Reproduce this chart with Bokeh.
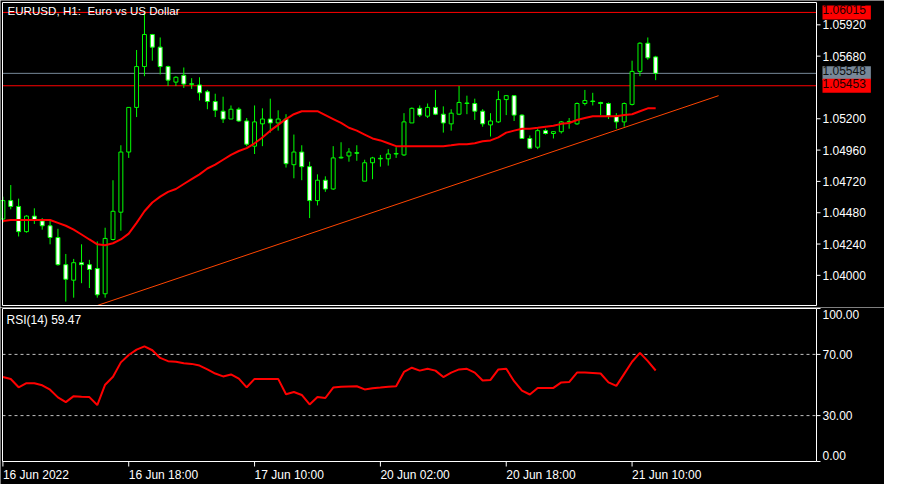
import pandas as pd
from bokeh.plotting import figure
from bokeh.layouts import column
from bokeh.models import Range1d, Label, ColumnDataSource, BoxAnnotation
from bokeh.core.properties import value
from bokeh.embed import file_html
from bokeh.resources import INLINE

# ---------------- data (EURUSD H1) ----------------
open_ = [1.04432, 1.04573, 1.04528, 1.04335, 1.04454, 1.04417, 1.04380, 1.04290, 1.04082, 1.03963,
         1.04097, 1.04082, 1.04052, 1.03859, 1.04275, 1.04484, 1.04945, 1.05287, 1.05600, 1.05846,
         1.05749, 1.05600, 1.05481, 1.05533, 1.05468, 1.05459, 1.05407, 1.05332, 1.05258, 1.05198,
         1.05273, 1.05183, 1.04990, 1.05161, 1.05198, 1.05168, 1.05198, 1.04848, 1.04945, 1.04833,
         1.04573, 1.04729, 1.04662, 1.04900, 1.04915, 1.04940, 1.04722, 1.04863, 1.04893, 1.04893,
         1.04930, 1.04923, 1.05168, 1.05280, 1.05220, 1.05287, 1.05235, 1.05161, 1.05235, 1.05317,
         1.05317, 1.05258, 1.05153, 1.05176, 1.05347, 1.05377, 1.05228, 1.05049, 1.04982, 1.05109,
         1.05087, 1.05101, 1.05176, 1.05161, 1.05317, 1.05336, 1.05325, 1.05317, 1.05220, 1.05176,
         1.05310, 1.05563, 1.05779, 1.05674]
high = [1.04603, 1.04692, 1.04588, 1.04461, 1.04514, 1.04439, 1.04424, 1.04357, 1.04164, 1.04126,
        1.04238, 1.04119, 1.04260, 1.04365, 1.04729, 1.04997, 1.05287, 1.05727, 1.06015, 1.05850,
        1.05823, 1.05607, 1.05526, 1.05593, 1.05511, 1.05518, 1.05421, 1.05392, 1.05369, 1.05302,
        1.05287, 1.05206, 1.05302, 1.05280, 1.05354, 1.05265, 1.05235, 1.05079, 1.04997, 1.04871,
        1.04774, 1.04759, 1.04990, 1.05020, 1.04975, 1.04997, 1.04886, 1.04908, 1.04923, 1.04967,
        1.04982, 1.05243, 1.05287, 1.05302, 1.05317, 1.05421, 1.05295, 1.05273, 1.05451, 1.05377,
        1.05354, 1.05273, 1.05243, 1.05414, 1.05380, 1.05380, 1.05235, 1.05072, 1.05124, 1.05124,
        1.05101, 1.05183, 1.05206, 1.05325, 1.05421, 1.05399, 1.05330, 1.05325, 1.05243, 1.05325,
        1.05645, 1.05786, 1.05823, 1.05682]
low = [1.04402, 1.04506, 1.04298, 1.04327, 1.04394, 1.04350, 1.04238, 1.04074, 1.03799, 1.03829,
       1.03940, 1.03903, 1.03829, 1.03829, 1.04268, 1.04342, 1.04900, 1.05213, 1.05526, 1.05645,
       1.05540, 1.05451, 1.05451, 1.05436, 1.05429, 1.05340, 1.05273, 1.05213, 1.05168, 1.05198,
       1.05176, 1.04990, 1.04930, 1.04990, 1.05094, 1.05109, 1.04826, 1.04744, 1.04729, 1.04439,
       1.04536, 1.04640, 1.04655, 1.04895, 1.04871, 1.04878, 1.04722, 1.04737, 1.04833, 1.04841,
       1.04900, 1.04915, 1.05168, 1.05213, 1.05206, 1.05228, 1.05094, 1.05109, 1.05228, 1.05235,
       1.05191, 1.05139, 1.05064, 1.05168, 1.05228, 1.05183, 1.05049, 1.04975, 1.04967, 1.05079,
       1.05049, 1.05087, 1.05124, 1.05153, 1.05302, 1.05302, 1.05228, 1.05198, 1.05124, 1.05139,
       1.05302, 1.05526, 1.05652, 1.05496]
close = [1.04573, 1.04528, 1.04335, 1.04454, 1.04424, 1.04380, 1.04290, 1.04082, 1.03970, 1.04097,
         1.04082, 1.04045, 1.03851, 1.04283, 1.04491, 1.04945, 1.05287, 1.05600, 1.05846, 1.05749,
         1.05600, 1.05496, 1.05518, 1.05466, 1.05464, 1.05399, 1.05332, 1.05265, 1.05198, 1.05273,
         1.05183, 1.05005, 1.05176, 1.05198, 1.05168, 1.05198, 1.04856, 1.04945, 1.04833, 1.04573,
         1.04729, 1.04662, 1.04900, 1.04905, 1.04945, 1.04936, 1.04863, 1.04900, 1.04897, 1.04930,
         1.04934, 1.05176, 1.05280, 1.05228, 1.05287, 1.05235, 1.05168, 1.05243, 1.05325, 1.05321,
         1.05258, 1.05161, 1.05183, 1.05347, 1.05377, 1.05228, 1.05049, 1.04975, 1.05109, 1.05087,
         1.05101, 1.05176, 1.05180, 1.05317, 1.05340, 1.05332, 1.05317, 1.05220, 1.05176, 1.05317,
         1.05563, 1.05779, 1.05667, 1.05548]
ma = [1.04417, 1.04424, 1.04424, 1.04424, 1.04424, 1.04424, 1.04424, 1.04402, 1.04380, 1.04350,
      1.04313, 1.04275, 1.04238, 1.04231, 1.04246, 1.04275, 1.04320, 1.04402, 1.04491, 1.04558,
      1.04603, 1.04640, 1.04662, 1.04700, 1.04737, 1.04774, 1.04819, 1.04848, 1.04886, 1.04923,
      1.04953, 1.04975, 1.05012, 1.05057, 1.05109, 1.05153, 1.05198, 1.05235, 1.05258, 1.05258,
      1.05258, 1.05228, 1.05198, 1.05168, 1.05131, 1.05109, 1.05079, 1.05049, 1.05034, 1.05012,
      1.04990, 1.04990, 1.04990, 1.04990, 1.04990, 1.04990, 1.04990, 1.04997, 1.05005, 1.05005,
      1.05012, 1.05027, 1.05034, 1.05057, 1.05094, 1.05109, 1.05124, 1.05124, 1.05131, 1.05139,
      1.05146, 1.05161, 1.05168, 1.05191, 1.05206, 1.05220, 1.05220, 1.05220, 1.05220, 1.05228,
      1.05235, 1.05258, 1.05280, 1.05280]
rsi = [55.2, 53.9, 48.5, 51.2, 51.2, 49.8, 46.9, 41.9, 38.8, 42.7,
       42.3, 42.1, 36.9, 50.2, 55.4, 64.8, 69.6, 73.1, 75.2, 72.7,
       67.7, 65.6, 65.2, 64.2, 63.8, 62.7, 60.2, 57.5, 55.6, 56.9,
       54.2, 48.5, 54.0, 54.0, 54.0, 54.0, 44.0, 45.4, 43.5, 37.3,
       42.1, 41.5, 48.3, 48.8, 49.0, 49.2, 47.1, 47.9, 48.3, 48.8,
       49.2, 58.5, 61.3, 59.4, 60.6, 59.4, 55.2, 58.1, 60.2, 60.6,
       58.1, 52.9, 53.3, 60.2, 60.6, 52.5, 46.3, 43.8, 48.1, 48.1,
       48.1, 51.7, 51.9, 58.1, 58.1, 57.9, 57.5, 51.7, 49.4, 57.3,
       65.2, 71.0, 65.6, 59.47]

bar_times = ([t.strftime("%Y-%m-%d %H:%M") for t in pd.date_range("2022-06-16 02:00", "2022-06-17 23:00", freq="h")] +
             [t.strftime("%Y-%m-%d %H:%M") for t in pd.date_range("2022-06-20 00:00", "2022-06-21 13:00", freq="h")])
tick_times = ["2022-06-16 02:00", "2022-06-16 18:00", "2022-06-17 10:00",
              "2022-06-20 02:00", "2022-06-20 18:00", "2022-06-21 10:00"]
tick_labels = ["16 Jun 2022", "16 Jun 18:00", "17 Jun 10:00",
               "20 Jun 02:00", "20 Jun 18:00", "21 Jun 10:00"]
price_ticks = [1.04000, 1.04240, 1.04480, 1.04720, 1.04960, 1.05200, 1.05680, 1.05920]
rsi_ticks = [0, 30, 70, 100]
rsi_mid_ticks = [30, 70]
rsi_levels = [30, 70]
hline_prices = [1.06015, 1.05548, 1.05453]
hline_colors = ["#ff0000", "#778899", "#ff0000"]
trend_bar = [12, 91]
trend_price = [1.03769, 1.05377]
title_text = "EURUSD, H1:\u00a0 Euro vs US Dollar"
rsi_title = "RSI(14) 59.47"

# ---------------- geometry ----------------
FONT = "Liberation Sans"
FS = "12px"
W = 884
FW = 814                      # width of the plotting box
X0, X1 = -0.05, 103.45        # bar-index span of the plotting box
Y0, Y1 = 1.03769, 1.06091     # price span of the plotting box
MAIN_H, MAIN_BOX, MAIN_TOP = 307, 303, 2
RSI_H, RSI_BOX, RSI_TOP = 177, 153, 1
GREEN = "#00ff00"

ppu = FW / (X1 - X0)
ppy = MAIN_BOX / (Y1 - Y0)
ppr = RSI_BOX / 100.0
xr = Range1d(X0 - 2 / ppu, X0 + (W - 2) / ppu)

idx = list(range(len(close)))
tick_pos = [bar_times.index(t) for t in tick_times]

src = ColumnDataSource(dict(
    x=idx, o=open_, h=high, l=low, c=close,
    top=[max(a, b) for a, b in zip(open_, close)],
    bottom=[min(a, b) for a, b in zip(open_, close)],
    fill=["black" if c >= o else "white" for o, c in zip(open_, close)],
))

def base_fig(h, yr):
    f = figure(width=W, height=h, x_range=xr, y_range=yr,
               x_axis_location=None, y_axis_location=None,
               output_backend="svg", toolbar_location=None, min_border=0,
               background_fill_color="black", border_fill_color="black",
               outline_line_color=None)
    f.grid.visible = False
    return f

# ---------------- main price panel ----------------
p = base_fig(MAIN_H, Range1d(Y0 - (MAIN_H - MAIN_TOP - MAIN_BOX) / ppy, Y1 + MAIN_TOP / ppy))

p.segment(x0=[X0] * len(hline_prices), x1=[X1] * len(hline_prices),
          y0=hline_prices, y1=hline_prices, line_color=hline_colors, line_width=1)
p.line(trend_bar, trend_price, line_color="#ff4500", line_width=1)
p.segment(x0="x", y0="l", x1="x", y1="h", line_color=GREEN, line_width=1, source=src)
p.vbar(x="x", width=0.5, top="top", bottom="bottom", fill_color="fill",
       line_color=GREEN, line_width=1, source=src)
p.line(idx, ma, line_color="#ff0000", line_width=2)

p.add_layout(BoxAnnotation(left=X0, right=X1, bottom=Y0, top=Y1, fill_alpha=0,
                           line_color="white", line_width=1, line_alpha=1))

# right price scale
p.segment(x0=[X1] * len(price_ticks), x1=[X1 + 4 / ppu] * len(price_ticks),
          y0=price_ticks, y1=price_ticks, line_color="white", line_width=1)
p.text(x=[X1 + 6 / ppu] * len(price_ticks), y=price_ticks,
       text=[f"{v:.5f}" for v in price_ticks], text_color="white",
       text_font=value(FONT), text_font_size=value(FS),
       text_baseline="middle", text_align="left")

for pr, col in zip(hline_prices, hline_colors):
    p.add_layout(Label(x=X1 + 6 / ppu, y=pr, text=f"{pr:.5f}",
                       text_baseline="middle", text_align="left",
                       text_color="#1a0000" if col == "#ff0000" else "#101010",
                       text_font=FONT, text_font_size=FS,
                       background_fill_color=col, padding=(0, 5, 0, 5)))

p.add_layout(Label(x=X0 + 5 / ppu, y=Y1 - 1.5 / ppy, text=title_text,
                   text_baseline="top", text_align="left", text_color="white",
                   text_font=FONT, text_font_size="11.6px"))

# ---------------- RSI panel ----------------
r = base_fig(RSI_H, Range1d(-(RSI_H - RSI_TOP - RSI_BOX) / ppr, 100 + RSI_TOP / ppr))

r.segment(x0=[X0] * len(rsi_levels), x1=[X1] * len(rsi_levels), y0=rsi_levels, y1=rsi_levels,
          line_color="#c0c0c0", line_width=1, line_dash="3 3")
r.line(idx, rsi, line_color="#ff0000", line_width=2)
r.add_layout(BoxAnnotation(left=X0, right=X1, bottom=0, top=100, fill_alpha=0,
                           line_color="white", line_width=1, line_alpha=1))

# right RSI scale
r.segment(x0=[X1] * len(rsi_ticks), x1=[X1 + 4 / ppu] * len(rsi_ticks),
          y0=rsi_ticks, y1=rsi_ticks, line_color="white", line_width=1)
r.text(x=[X1 + 6 / ppu] * len(rsi_mid_ticks), y=rsi_mid_ticks,
       text=[f"{v:.2f}" for v in rsi_mid_ticks], text_color="white",
       text_font=value(FONT), text_font_size=value(FS),
       text_baseline="middle", text_align="left")
r.add_layout(Label(x=X1 + 6 / ppu, y=100 - 1.5 / ppr, text=f"{rsi_ticks[-1]:.2f}",
                   text_baseline="top", text_align="left", text_color="white",
                   text_font=FONT, text_font_size=FS))
r.add_layout(Label(x=X1 + 6 / ppu, y=1.5 / ppr, text=f"{rsi_ticks[0]:.2f}",
                   text_baseline="bottom", text_align="left", text_color="white",
                   text_font=FONT, text_font_size=FS))

# time scale
r.segment(x0=tick_pos, x1=tick_pos, y0=[0] * len(tick_pos), y1=[-5 / ppr] * len(tick_pos),
          line_color="white", line_width=1)
r.text(x=tick_pos, y=[-6 / ppr] * len(tick_pos), text=tick_labels, text_color="white",
       text_font=value(FONT), text_font_size=value(FS),
       text_baseline="top", text_align="left")

r.add_layout(Label(x=X0 + 4 / ppu, y=100 - 4 / ppr, text=rsi_title,
                   text_baseline="top", text_align="left", text_color="white",
                   text_font=FONT, text_font_size=FS))

layout = column(p, r, spacing=0)
open("out.html", "w").write(file_html(layout, INLINE))
